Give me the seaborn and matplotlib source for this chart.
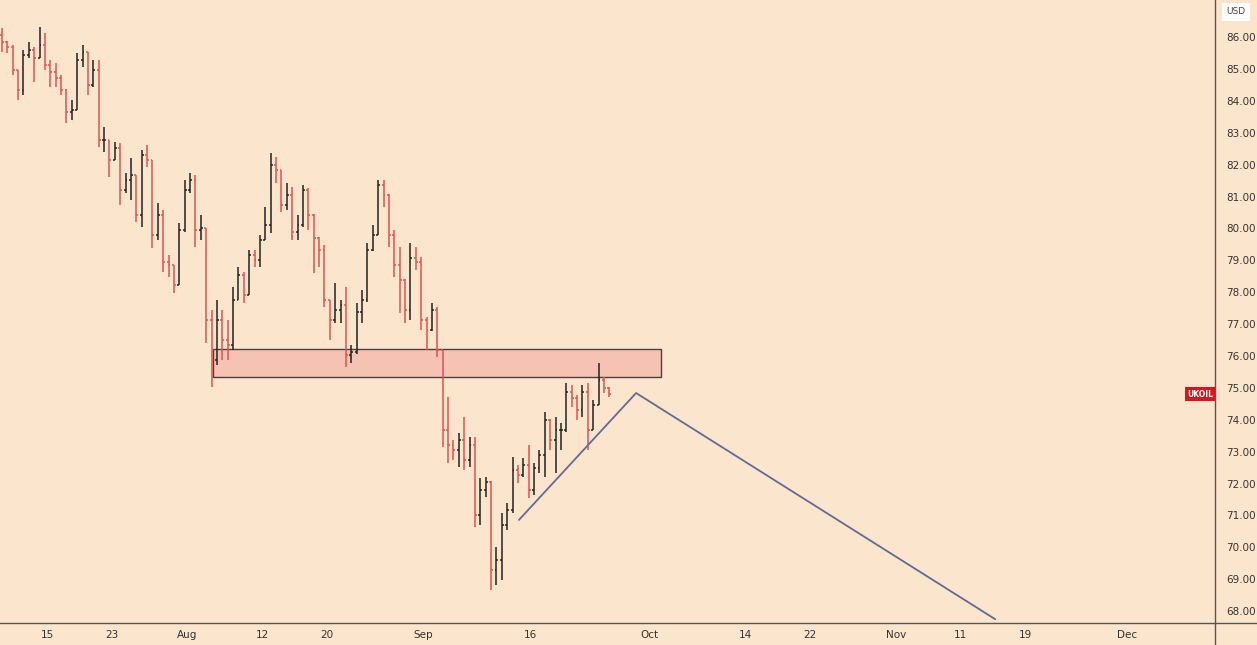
import numpy as np
import pandas as pd
import matplotlib
matplotlib.use("Agg")
import matplotlib.pyplot as plt
import seaborn as sns
from matplotlib.patches import Rectangle
from matplotlib.lines import Line2D

# ---------------- data ----------------
first_open = 86.06
closes = [85.84, 85.69, 84.97, 84.34, 85.44, 85.59, 85.34, 85.75, 85.12, 84.90,
          84.72, 84.34, 83.65, 83.71, 85.28, 85.53, 84.50, 84.97, 82.77, 82.77,
          82.14, 82.52, 81.20, 81.52, 81.67, 80.42, 82.30, 82.14, 79.79, 80.42,
          78.95, 78.85, 78.23, 79.95, 81.20, 81.52, 79.95, 80.01, 77.13, 75.87,
          77.13, 76.50, 76.34, 77.76, 78.54, 77.91, 79.17, 79.01, 79.64, 80.11,
          81.99, 81.83, 80.73, 81.05, 79.89, 80.11, 81.20, 80.42, 79.70, 79.32,
          77.76, 77.13, 77.44, 77.60, 76.03, 76.12, 77.38, 77.76, 79.32, 79.79,
          81.36, 81.05, 79.79, 78.85, 78.38, 77.44, 79.07, 78.95, 77.13, 76.81,
          77.44, 76.19, 73.68, 73.21, 73.05, 73.37, 72.74, 73.21, 71.01, 71.80,
          72.05, 69.29, 69.60, 70.70, 71.17, 72.43, 72.27, 72.58, 71.80, 72.49,
          72.90, 73.99, 73.37, 73.68, 73.68, 74.87, 74.68, 74.31, 74.87, 73.68,
          74.46, 75.25, 75.00, 74.81]
highs = [86.28, 85.86, 85.75, 84.97, 85.59, 85.84, 85.69, 86.31, 86.13, 85.28,
         85.18, 84.81, 84.36, 84.03, 85.50, 85.75, 85.53, 85.28, 85.28, 83.18,
         82.77, 82.71, 82.68, 81.74, 82.21, 81.67, 82.46, 82.61, 82.14, 80.80,
         80.58, 79.17, 78.85, 80.17, 81.52, 81.74, 81.67, 80.42, 80.01, 77.44,
         77.76, 77.44, 77.13, 78.16, 78.79, 78.63, 79.32, 79.32, 79.79, 80.67,
         82.36, 82.24, 81.83, 81.42, 81.30, 80.42, 81.36, 81.27, 80.45, 79.73,
         79.48, 77.76, 78.29, 77.76, 78.16, 76.34, 77.66, 78.07, 79.54, 80.11,
         81.52, 81.52, 81.08, 79.95, 79.42, 78.40, 79.54, 79.42, 79.10, 77.22,
         77.66, 77.54, 76.19, 74.71, 73.37, 73.59, 74.09, 73.46, 73.46, 72.18,
         72.21, 72.08, 70.01, 71.08, 71.39, 72.83, 72.58, 72.80, 73.21, 72.65,
         73.05, 74.24, 74.02, 74.09, 73.90, 75.15, 75.09, 74.78, 75.09, 75.15,
         74.62, 75.78, 75.34, 75.03]
lows = [85.53, 85.50, 84.81, 84.03, 84.18, 85.34, 84.59, 85.34, 84.97, 84.43,
        84.43, 84.18, 83.30, 83.40, 83.71, 85.06, 84.18, 84.43, 82.55, 82.40,
        81.61, 82.14, 80.73, 81.11, 80.89, 80.20, 80.04, 81.92, 79.39, 79.64,
        78.63, 78.48, 77.97, 78.23, 79.89, 81.11, 79.42, 79.64, 76.41, 75.03,
        75.72, 75.87, 75.87, 76.19, 77.76, 77.66, 77.91, 78.79, 78.79, 79.64,
        79.86, 81.42, 80.51, 80.58, 79.64, 79.64, 80.05, 79.95, 78.60, 78.79,
        77.54, 76.50, 77.03, 77.03, 75.65, 75.78, 76.05, 77.03, 77.70, 79.30,
        79.79, 80.67, 79.42, 78.48, 77.35, 77.03, 77.13, 78.70, 76.81, 76.19,
        76.78, 75.97, 73.15, 72.65, 72.74, 72.52, 72.43, 72.52, 70.64, 70.70,
        71.58, 68.66, 68.82, 68.98, 70.54, 71.08, 72.02, 72.21, 71.55, 71.64,
        72.33, 72.21, 73.05, 72.33, 73.05, 73.62, 74.40, 73.99, 74.09, 73.05,
        73.68, 74.46, 74.84, 74.71]

tick_labels = ["15", "23", "Aug", "12", "20", "Sep", "16", "Oct", "14", "22",
               "Nov", "11", "19", "Dec"]
tick_days = [0, 6, 13, 20, 26, 35, 45, 56, 65, 71, 79, 85, 91, 100.5]
price_ticks = list(range(68, 87))

zone_start, zone_end = 15.45, 57.1
zone_low, zone_high = 75.34, 76.22

path_days = [43.9, 54.8, 88.2]
path_prices = [70.86, 74.84, 67.75]

symbol = "UKOIL"
last_price = 74.8
currency = "USD"

# ---------------- styling ----------------
BG = "#FCE5CD"
UP = "#222222"
DOWN = "#E0514F"
sns.set_theme(style="white", rc={"axes.facecolor": BG, "figure.facecolor": BG})
plt.rcParams["font.family"] = ["DejaVu Sans"]

W, H = 1257, 645
fig = plt.figure(figsize=(W / 100, H / 100), dpi=100)
ax = fig.add_axes([0, 22 / H, 1215 / W, 623 / H])
ax.set_facecolor(BG)

df = pd.DataFrame({"close": closes, "high": highs, "low": lows})
df["open"] = [first_open] + closes[:-1]
df["x"] = -4.19 + 0.5 * np.arange(len(df))
df["dir"] = np.where(df["close"] >= df["open"], "up", "down")
colors = df["dir"].map({"up": UP, "down": DOWN}).values

ax.vlines(df["x"], df["low"], df["high"], colors=colors, lw=1.1, zorder=3)
ax.hlines(df["open"], df["x"] - 0.17, df["x"], colors=colors, lw=1.1, zorder=3)
ax.hlines(df["close"], df["x"], df["x"] + 0.17, colors=colors, lw=1.1, zorder=3)

ax.add_patch(Rectangle((zone_start, zone_low), zone_end - zone_start,
                       zone_high - zone_low, facecolor="#F6C2B3",
                       edgecolor="#4a4040", lw=1.0, zorder=2))

path_df = pd.DataFrame({"day": path_days, "price": path_prices})
sns.lineplot(data=path_df, x="day", y="price", ax=ax, sort=False,
             estimator=None, color="#5E6C96", lw=1.3, zorder=4)

ax.set_xlim(-4.37, 108.65)
ax.set_ylim(67.63, 87.16)

ax.yaxis.tick_right()
ax.set_yticks(price_ticks)
ax.set_yticklabels([f"{p:.2f}" for p in price_ticks])
ax.set_xticks(tick_days)
ax.set_xticklabels(tick_labels)
ax.tick_params(axis="y", length=0, pad=8, labelsize=7.5, labelcolor="#333333")
ax.tick_params(axis="x", length=0, pad=5, labelsize=7.5, labelcolor="#333333")
ax.set_xlabel("")
ax.set_ylabel("")
for s in ["top", "left"]:
    ax.spines[s].set_visible(False)
for s in ["right", "bottom"]:
    ax.spines[s].set_color("#555555")
    ax.spines[s].set_linewidth(1.0)

# extend frame lines into the price-scale corner
fig.add_artist(Line2D([1215 / W, 1], [22 / H, 22 / H], transform=fig.transFigure,
                      color="#555555", lw=1.0))
fig.add_artist(Line2D([1215 / W, 1215 / W], [0, 22 / H], transform=fig.transFigure,
                      color="#555555", lw=1.0))

fig.text(1236 / W, 1 - 12 / H, currency, ha="center", va="center", fontsize=6.5,
         color="#444444",
         bbox=dict(boxstyle="square,pad=0.45", fc="white", ec="none"))

ax.annotate(symbol, xy=(0.9985, last_price), xycoords=("axes fraction", "data"),
            ha="right", va="center", fontsize=5.5, fontweight="bold", color="white",
            bbox=dict(boxstyle="square,pad=0.3", fc="#D9151B", ec="none"), zorder=6)

fig.savefig("out.png", dpi=100, facecolor=BG)
